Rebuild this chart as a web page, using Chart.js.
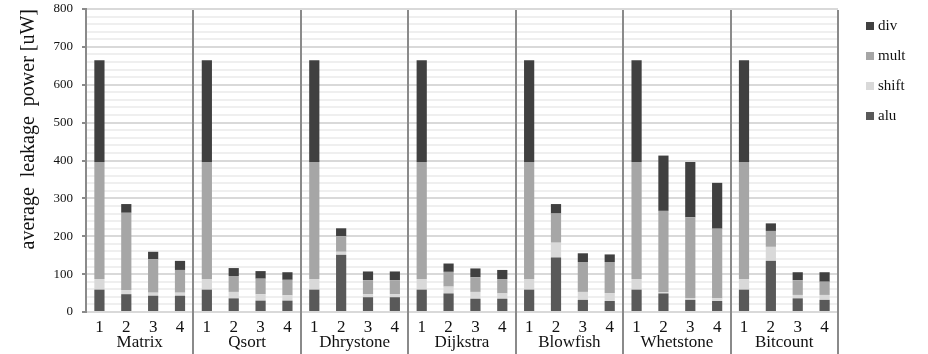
<!DOCTYPE html>
<html>
<head>
<meta charset="utf-8">
<script src="https://cdn.jsdelivr.net/npm/chart.js@4/dist/chart.umd.min.js"></script>
<style>
  html, body { margin: 0; padding: 0; background: #fff; }
  #wrap { width: 928px; height: 354px; }
</style>
</head>
<body>
<div id="wrap"><canvas id="grafico"></canvas></div>
<script>
// benchmarks and bar labels
const grupos = ['Matrix', 'Qsort', 'Dhrystone', 'Dijkstra', 'Blowfish', 'Whetstone', 'Bitcount'];
const barras = ['1', '2', '3', '4'];

// values per component, 4 bars per benchmark (uW)
const alu = [59, 47, 43, 43, 59, 36, 30, 30, 59, 151, 39, 39, 59, 49, 35, 35, 59, 144, 32, 29, 59, 49, 32, 29, 59, 135, 36, 32];
const shift = [28, 11, 8, 8, 28, 17, 17, 14, 28, 8, 8, 8, 28, 18, 18, 14, 28, 39, 21, 21, 28, 3, 5, 7, 28, 37, 9, 13];
const mult = [309, 204, 88, 60, 309, 42, 41, 41, 309, 41, 37, 37, 309, 39, 39, 38, 309, 77, 79, 82, 309, 215, 213, 184, 309, 42, 39, 35];
const div = [269, 23, 20, 24, 269, 21, 20, 20, 269, 21, 23, 23, 269, 22, 23, 24, 269, 25, 23, 20, 269, 146, 146, 121, 269, 20, 21, 25];

const yTicks = [0, 100, 200, 300, 400, 500, 600, 700, 800];

const serif = '"Liberation Serif", "DejaVu Serif", serif';

// separators, group names and legend
const extras = {
    id: 'extras',
    afterDraw(chart) {
        const ctx = chart.ctx;
        const x = chart.scales.x;
        const area = chart.chartArea;
        const paso = x.getPixelForValue(1) - x.getPixelForValue(0);
        ctx.save();
        ctx.strokeStyle = '#8a8a8a';
        ctx.lineWidth = 2;
        for (let g = 1; g <= grupos.length; g++) {
            const px = Math.round(x.getPixelForValue(g * 4 - 1) + paso / 2);
            ctx.beginPath();
            ctx.moveTo(px, area.top + 1);
            ctx.lineTo(px, chart.height);
            ctx.stroke();
        }
        ctx.fillStyle = '#111';
        ctx.font = '17px ' + serif;
        ctx.textAlign = 'center';
        ctx.textBaseline = 'middle';
        grupos.forEach((nombre, g) => {
            const cx = (x.getPixelForValue(g * 4) + x.getPixelForValue(g * 4 + 3)) / 2;
            ctx.fillText(nombre, cx, 343);
        });
        // legend, top item is last dataset
        ctx.font = '15px ' + serif;
        ctx.textAlign = 'left';
        const ds = chart.data.datasets.slice().reverse();
        ds.forEach((d, i) => {
            const cy = 26 + i * 30;
            ctx.fillStyle = d.backgroundColor;
            ctx.fillRect(866, cy - 4, 8, 8);
            ctx.fillStyle = '#111';
            ctx.fillText(d.label, 878, cy);
        });
        ctx.restore();
    }
};

new Chart('grafico', {
    type: 'bar',
    data: {
        labels: grupos.flatMap(() => barras),
        datasets: [
            { label: 'alu', data: alu, backgroundColor: '#595959' },
            { label: 'shift', data: shift, backgroundColor: '#d9d9d9' },
            { label: 'mult', data: mult, backgroundColor: '#a6a6a6' },
            { label: 'div', data: div, backgroundColor: '#404040' }
        ]
    },
    options: {
        responsive: true,
        maintainAspectRatio: false,
        animation: false,
        layout: { padding: { top: 0, right: 90, bottom: 0, left: 0 } },
        datasets: { bar: { categoryPercentage: 1, barPercentage: 0.38 } },
        plugins: {
            legend: { display: false },
            tooltip: { enabled: false }
        },
        scales: {
            x: {
                stacked: true,
                afterFit: (s) => { s.height = 42; },
                grid: { display: false, drawTicks: false },
                border: { color: '#d9d9d9', width: 2 },
                ticks: {
                    autoSkip: false,
                    maxRotation: 0,
                    padding: 5,
                    color: '#111',
                    font: { family: serif, size: 17 }
                }
            },
            y: {
                stacked: true,
                min: 0,
                max: 800,
                afterFit: (s) => {
                    s.width = 86;
                    s.paddingTop = 9;
                    s.paddingBottom = 0;
                },
                border: { color: '#8a8a8a', width: 2 },
                grid: {
                    lineWidth: 2,
                    tickLength: 4,
                    color: (c) => (c.tick && c.tick.value % 100 === 0) ? '#d9d9d9' : '#efefef',
                    tickColor: (c) => (c.tick && c.tick.value % 100 === 0) ? '#8a8a8a' : 'rgba(0,0,0,0)'
                },
                ticks: {
                    stepSize: 20,
                    autoSkip: false,
                    padding: 9,
                    color: '#111',
                    font: { family: serif, size: 13 },
                    callback: (v) => yTicks.includes(v) ? v : ''
                },
                title: {
                    display: true,
                    text: 'average  leakage  power [uW]',
                    align: 'end',
                    color: '#111',
                    font: { family: serif, size: 20 },
                    padding: { top: 17, bottom: 4 }
                }
            }
        }
    },
    plugins: [extras]
});
</script>
</body>
</html>
